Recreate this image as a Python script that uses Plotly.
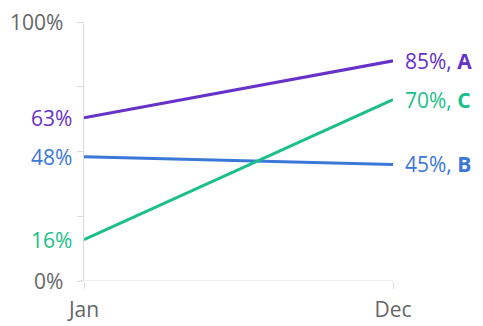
import plotly.graph_objects as go

# Slope chart data: value at start and end of the year per series
months = ["Jan", "Dec"]
series_names = ["A", "B", "C"]
start_values = [63, 48, 16]
end_values = [85, 45, 70]
colors = ["#6632c8", "#3b78d8", "#1bbf8a"]

y_ticks = [0, 25, 50, 75, 100]
axis_labels = {0: "0%", 100: "100%"}

FONT = "Open Sans"
SIZE = 21
GRAY_TEXT = "#666666"
AXIS_GRAY = "#dddddd"

fig = go.Figure()

for name, s, e, c in zip(series_names, start_values, end_values, colors):
    fig.add_trace(go.Scatter(
        x=[0, 1], y=[s, e], mode="lines", name=name,
        line=dict(color=c, width=3), hoverinfo="skip",
    ))
    # value at the start, to the left of the axis
    fig.add_annotation(
        x=0, y=s, xref="x", yref="y", text=f"{s}%", showarrow=False,
        xanchor="right", yanchor="middle", xshift=-10,
        font=dict(family=FONT, size=SIZE, color=c),
    )
    # value and series name at the end
    fig.add_annotation(
        x=1, y=e, xref="x", yref="y", text=f"{e}%, <b>{name}</b>", showarrow=False,
        xanchor="left", yanchor="middle", xshift=10,
        font=dict(family=FONT, size=SIZE, color=c),
    )

for v, lbl in axis_labels.items():
    fig.add_annotation(
        x=0, y=v, xref="x", yref="y", text=lbl, showarrow=False,
        xanchor="right", yanchor="middle", xshift=-19,
        font=dict(family=FONT, size=SIZE, color=GRAY_TEXT),
    )

# baseline extending under the y-axis ticks
fig.add_shape(type="line", xref="paper", yref="y",
              x0=-6 / 309, x1=1, y0=0, y1=0,
              line=dict(color=AXIS_GRAY, width=1), layer="below")

fig.update_layout(
    width=483, height=326,
    margin=dict(l=84, r=90, t=22, b=45, autoexpand=False),
    paper_bgcolor="white", plot_bgcolor="white",
    showlegend=False,
    font=dict(family=FONT, size=SIZE, color=GRAY_TEXT),
    xaxis=dict(
        range=[0, 1], tickvals=[0, 1], ticktext=months,
        showgrid=False, zeroline=False, showline=False,
        ticks="outside", ticklen=7, tickcolor=AXIS_GRAY, tickwidth=1,
        ticklabelstandoff=3, automargin=False,
        tickfont=dict(family=FONT, size=SIZE, color=GRAY_TEXT),
        fixedrange=True,
    ),
    yaxis=dict(
        range=[0, 100], tickvals=y_ticks, ticktext=[""] * len(y_ticks),
        showgrid=False, zeroline=False, showline=True, linecolor=AXIS_GRAY,
        linewidth=1, ticks="outside", ticklen=6, tickcolor=AXIS_GRAY,
        automargin=False, fixedrange=True,
    ),
)

fig.write_html("out.html")
